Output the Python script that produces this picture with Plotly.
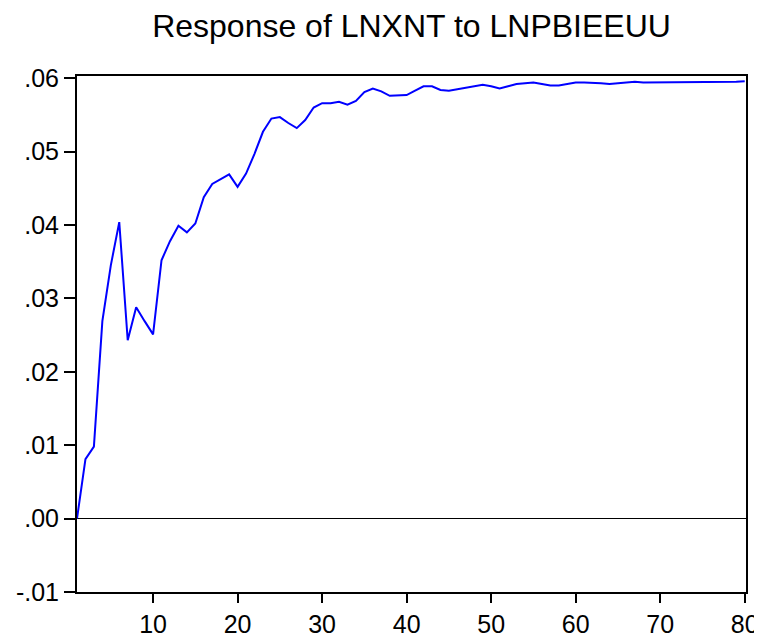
import plotly.graph_objects as go

# impulse response period
periods = list(range(1, 81))

# response of LNXNT to LNPBIEEUU
response = [
    0.0000, 0.0081, 0.0098, 0.0269, 0.0345, 0.0404, 0.0243, 0.0288, 0.0269, 0.0251,
    0.0352, 0.0378, 0.0399, 0.0390, 0.0402, 0.0438, 0.0456, 0.0463, 0.0469, 0.0452,
    0.0470, 0.0497, 0.0527, 0.0545, 0.0547, 0.0539, 0.0532, 0.0543, 0.0560, 0.0566,
    0.0566, 0.0568, 0.0564, 0.0569, 0.0581, 0.0586, 0.0582, 0.0576, 0.0576, 0.0577,
    0.0583, 0.0589, 0.0589, 0.0584, 0.0583, 0.0585, 0.0586, 0.0589, 0.0591, 0.0589,
    0.0586, 0.0589, 0.0592, 0.0593, 0.0594, 0.0592, 0.0590, 0.0590, 0.0592, 0.0594,
    0.0594, 0.0594, 0.0593, 0.0592, 0.0593, 0.0595, 0.0595, 0.0594, 0.0594, 0.0594,
    0.0594, 0.0595, 0.0595, 0.0595, 0.0595, 0.0595, 0.0595, 0.0595, 0.0595, 0.0596,
]

x_ticks = [10, 20, 30, 40, 50, 60, 70, 80]
y_ticks = [-0.01, 0.00, 0.01, 0.02, 0.03, 0.04, 0.05, 0.06]
y_labels = ["-.01", ".00", ".01", ".02", ".03", ".04", ".05", ".06"]

FONT = "Liberation Sans, Arial, sans-serif"

# the page body adds an 8px margin, so the figure is 8px smaller
W, H = 754, 629

fig = go.Figure()
fig.add_trace(go.Scatter(
    x=periods,
    y=response,
    mode="lines",
    line=dict(color="#0000FF", width=2),
    showlegend=False,
))

fig.update_layout(
    width=W,
    height=H,
    margin=dict(l=69, r=16, t=68, b=45, autoexpand=False),
    paper_bgcolor="white",
    plot_bgcolor="white",
    font=dict(family=FONT, color="black"),
    title=dict(
        text="Response of LNXNT to LNPBIEEUU",
        font=dict(family=FONT, size=32, color="black"),
        x=0.5,
        xref="paper",
        xanchor="center",
        y=1 - 18 / H,
        yref="container",
        yanchor="middle",
        automargin=False,
    ),
)

fig.update_xaxes(
    range=[1, 80.15],
    tickvals=x_ticks,
    ticks="outside",
    ticklen=9,
    tickwidth=2,
    tickcolor="black",
    tickfont=dict(family=FONT, size=25, color="black"),
    showline=True,
    linewidth=2,
    linecolor="black",
    mirror=True,
    showgrid=False,
    zeroline=False,
    automargin=False,
)

fig.update_yaxes(
    range=[-0.01, 0.0603],
    tickvals=y_ticks,
    ticktext=y_labels,
    ticks="outside",
    ticklen=11,
    tickwidth=2,
    tickcolor="black",
    tickfont=dict(family=FONT, size=25, color="black"),
    showline=True,
    linewidth=2,
    linecolor="black",
    mirror=True,
    showgrid=False,
    zeroline=True,
    zerolinecolor="black",
    zerolinewidth=1,
    automargin=False,
)

fig.write_html("out.html")
